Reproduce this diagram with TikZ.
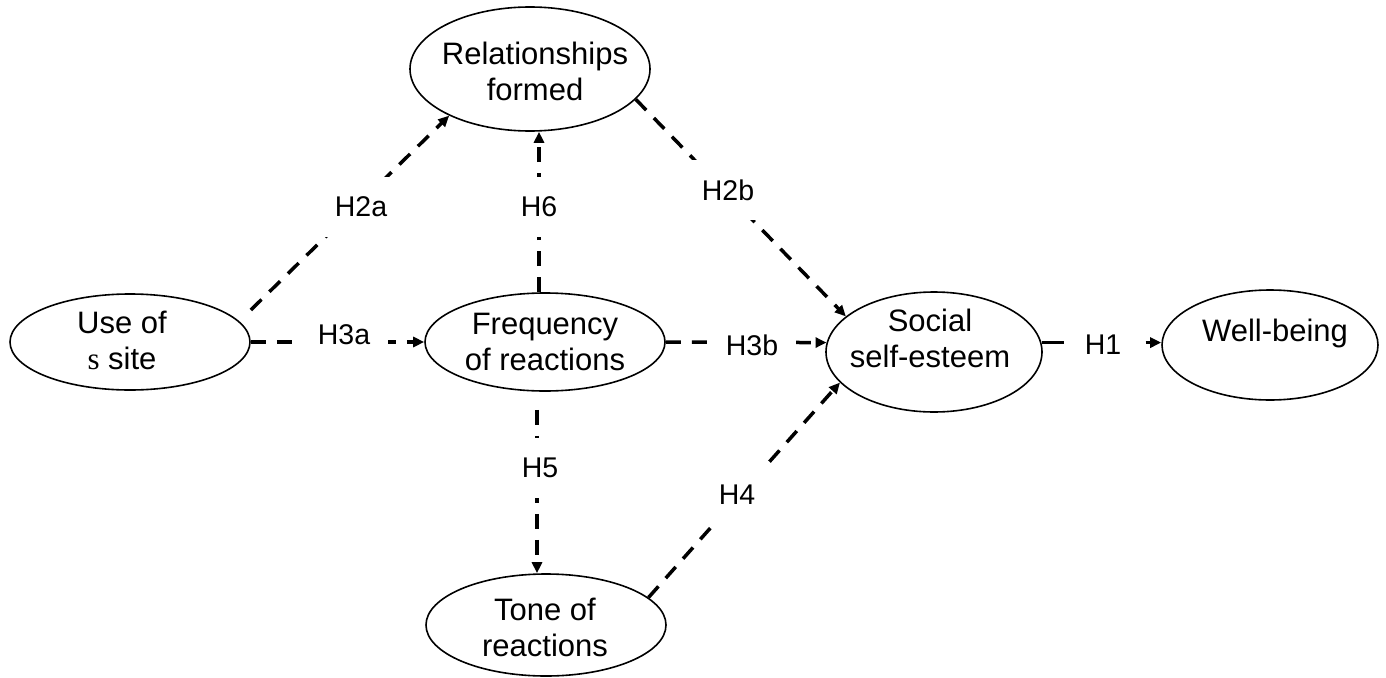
\documentclass[tikz,border=0pt]{standalone}
\usepackage{fontspec}
\setmainfont{Liberation Sans}
\newfontfamily\seriffont{Liberation Serif}
\usetikzlibrary{arrows.meta,shapes.geometric}
\begin{document}
\begin{tikzpicture}[x=1pt,y=-1pt,
  ell/.style={draw, ellipse, line width=1.6pt, inner sep=0pt},
  txt/.style={align=center, font=\fontsize{31pt}{36pt}\selectfont, inner sep=0pt},
  lbl/.style={fill=white, inner xsep=18pt, inner ysep=20pt, font=\fontsize{28.5pt}{31pt}\selectfont},
  conn/.style={line width=3.5pt, dash pattern=on 15pt off 11pt, -{Triangle[length=11pt,width=10pt]}}]
\useasboundingbox (0,0) rectangle (1386,677);
% ellipses
\node[ell, minimum width=240pt, minimum height=96pt]  (use)  at (130,342) {};
\node[ell, minimum width=240pt, minimum height=124pt] (rel)  at (530,69) {};
\node[ell, minimum width=240pt, minimum height=98pt]  (freq) at (545,342) {};
\node[ell, minimum width=240pt, minimum height=102pt] (tone) at (546,625) {};
\node[ell, minimum width=216pt, minimum height=120pt] (soc)  at (934,352) {};
\node[ell, minimum width=216pt, minimum height=110pt] (wb)   at (1270,345) {};
% texts
\node[txt] (usetxt)  at (122,340) {Use of\\{\seriffont s} site};
\node[txt] (reltxt)  at (535,71)  {Relationships\\formed};
\node[txt] (freqtxt) at (545,342) {Frequency\\of reactions};
\node[txt] (tonetxt) at (545,627) {Tone of\\reactions};
\node[txt] (soctxt)  at (930,338) {Social\\self-esteem};
\node[txt] (wbtxt)   at (1275,333) {Well-being};
% connectors
\draw[conn] ([yshift=32pt]use.east) -- (rel.210);
\draw[conn] ([xshift=-6pt]freq.north) -- ([xshift=9pt]rel.south);
\draw[conn] (rel.-16) -- (soc.158);
\draw[conn] (use.east) -- (freq.west);
\draw[conn] (freq.east) -- (soc.175);
\draw[conn, dash pattern=on 22pt off 82pt on 30pt] (soc.5) -- (soc.5 -| wb.west);
\draw[conn] ([xshift=-8pt,yshift=-18pt]freq.south) -- ([xshift=-9pt]tone.north);
\draw[conn] (tone.15) -- (soc.198);
% labels
\node[lbl] (h2a) at (361,207) {H2a};
\node[lbl] (h6)  at (539,207) {H6};
\node[lbl] (h2b) at (728,190) {H2b};
\node[lbl] (h3a) at (344,335) {H3a};
\node[lbl] (h3b) at (752,345) {H3b};
\node[lbl] (h1)  at (1103,345) {H1};
\node[lbl] (h5)  at (540,468) {H5};
\node[lbl] (h4)  at (737,495) {H4};
\end{tikzpicture}
\end{document}
